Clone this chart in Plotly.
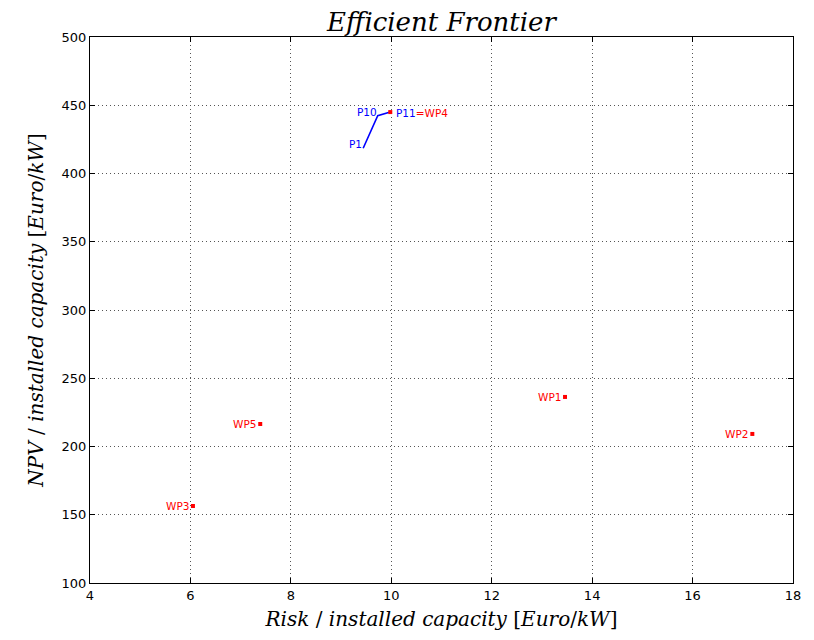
import plotly.graph_objects as go

# Efficient frontier portfolios P1..P11 (P11 = WP4)
frontier_names = ["P1", "P2", "P3", "P4", "P5", "P6", "P7", "P8", "P9", "P10", "P11"]
frontier_risk = [9.44, 9.47, 9.50, 9.53, 9.56, 9.59, 9.62, 9.66, 9.69, 9.73, 9.98]
frontier_npv = [418.5, 421.0, 423.5, 426.0, 428.5, 431.0, 433.5, 436.5, 439.5, 442.3, 445.0]

# Individual wind parks
wp_names = ["WP1", "WP2", "WP3", "WP4", "WP5"]
wp_risk = [13.46, 17.19, 6.05, 9.98, 7.39]
wp_npv = [236.3, 209.2, 156.4, 445.0, 216.5]

x_ticks = [4, 6, 8, 10, 12, 14, 16, 18]
y_ticks = [100, 150, 200, 250, 300, 350, 400, 450, 500]

fig = go.Figure()
fig.add_trace(go.Scatter(x=frontier_risk, y=frontier_npv, mode="lines",
                         line=dict(color="#0000ff", width=1.6), showlegend=False,
                         hoverinfo="skip"))
fig.add_trace(go.Scatter(x=wp_risk, y=wp_npv, mode="markers",
                         marker=dict(color="#ff0000", symbol="square", size=4,
                                     line=dict(width=0)),
                         showlegend=False))

lab_font = dict(family="DejaVu Sans", size=10.5)
for n, x, y in zip(wp_names, wp_risk, wp_npv):
    if n == "WP4":
        continue
    fig.add_annotation(x=x, y=y, text=n, showarrow=False, xanchor="right",
                       yanchor="middle", xshift=-2, font=dict(color="#ff0000", **lab_font))

# frontier labels
for i in [0, 9]:
    fig.add_annotation(x=frontier_risk[i], y=frontier_npv[i], text=frontier_names[i],
                       showarrow=False, xanchor="right", yanchor="middle", xshift=1,
                       yshift=4, font=dict(color="#0000ff", **lab_font))
fig.add_annotation(x=frontier_risk[10], y=frontier_npv[10],
                   text="<span style='color:#0000ff'>P11</span><span style='color:#ff0000'>=WP4</span>",
                   showarrow=False, xanchor="left", yanchor="middle", xshift=4, yshift=-1,
                   font=lab_font)

serif = "DejaVu Serif"
axis_common = dict(showline=True, linecolor="black", linewidth=1.3, mirror="ticks",
                   ticks="inside", ticklen=5, tickcolor="black", tickwidth=1,
                   showgrid=True, gridcolor="#555555", gridwidth=1, griddash="1px,3px",
                   zeroline=False, tickfont=dict(family="DejaVu Sans", size=13, color="black"))

fig.update_layout(
    width=814, height=640,
    paper_bgcolor="white", plot_bgcolor="white",
    margin=dict(l=82, r=29, t=29, b=65),
    title=dict(text="<i>Efficient Frontier</i>", x=0.5325, xanchor="center",
               y=0.979, yanchor="middle",
               font=dict(family=serif, size=26, color="black")),
    xaxis=dict(range=[4, 18], tickvals=x_ticks, ticktext=[str(v) for v in x_ticks],
               title=dict(text="<i>Risk</i> / <i>installed capacity</i> [<i>Euro</i>/<i>kW</i>]",
                          font=dict(family=serif, size=20, color="black"), standoff=10),
               **axis_common),
    yaxis=dict(range=[100, 500], tickvals=y_ticks, ticktext=[str(v) for v in y_ticks],
               title=dict(text="<i>NPV</i> / <i>installed capacity</i> [<i>Euro</i>/<i>kW</i>]",
                          font=dict(family=serif, size=20, color="black"), standoff=12),
               **axis_common),
)

fig.write_html("out.html")
